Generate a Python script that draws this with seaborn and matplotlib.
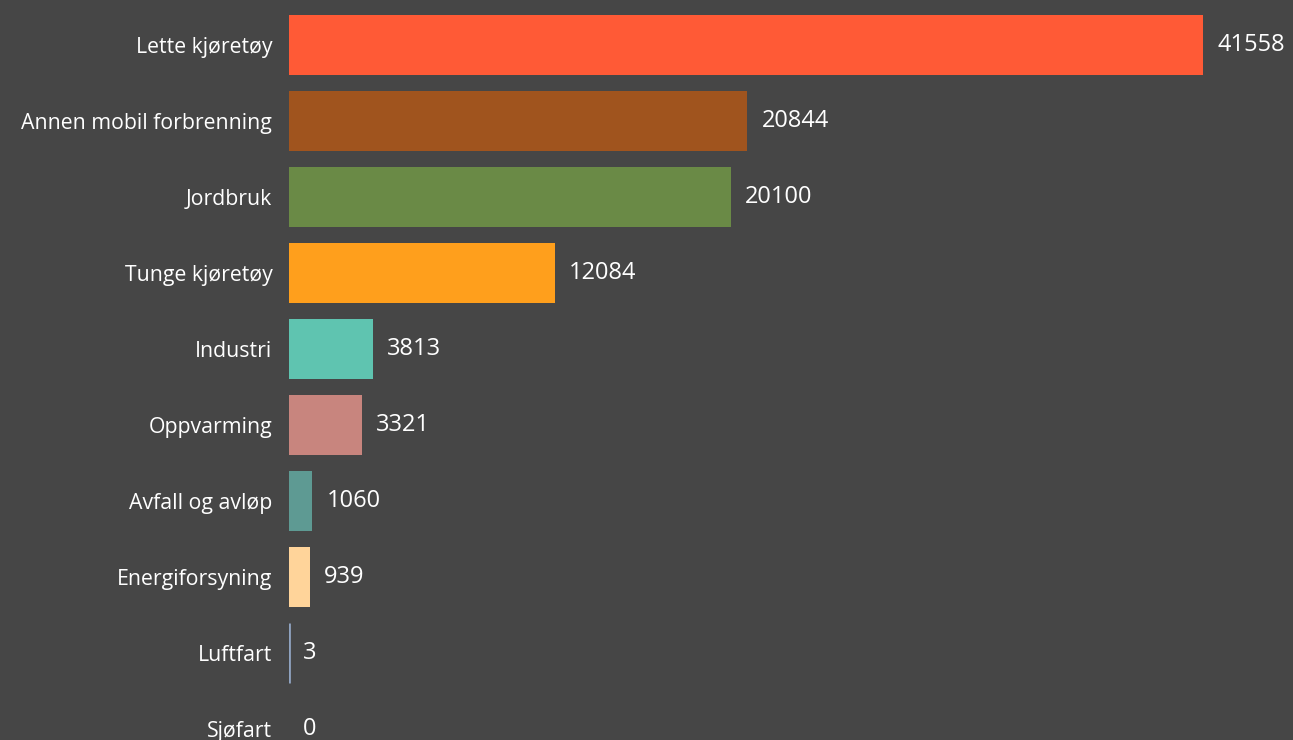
import matplotlib
matplotlib.use("Agg")
import matplotlib.pyplot as plt
import seaborn as sns
import pandas as pd

categories = ["Lette kjøretøy", "Annen mobil forbrenning", "Jordbruk", "Tunge kjøretøy",
              "Industri", "Oppvarming", "Avfall og avløp", "Energiforsyning", "Luftfart", "Sjøfart"]
values = [41558, 20844, 20100, 12084, 3813, 3321, 1060, 939, 3, 0]
colors = ["#FF5A36", "#A0541E", "#6A8A46", "#FF9F1C", "#5FC4B0", "#C8857E",
          "#5E9A93", "#FFD49A", "#8FA3C0", "#8FA3C0"]

bg = "#464646"
sns.set_theme(style="dark")
plt.rcParams['font.family'] = ['Open Sans', 'DejaVu Sans']

df = pd.DataFrame({"cat": categories, "val": values})

fig = plt.figure(figsize=(12.93, 7.4), dpi=100, facecolor=bg)
ax = fig.add_axes([289/1293, 0, 1 - 289/1293, 1])
ax.set_facecolor(bg)

sns.barplot(data=df, x="val", y="cat", hue="cat", palette=colors, order=categories,
            hue_order=categories, legend=False, width=0.79, ax=ax, saturation=1,
            linewidth=0)
# Luftfart tiny bar visible as thin line
ax.barh(8, 0, height=0.79, color="#8FA3C0", linewidth=2, edgecolor="#8FA3C0")

xmax = 41558 * 1004 / 914
ax.set_xlim(0, xmax)
ax.set_ylim(9.145, -0.592)

for i, v in enumerate(values):
    ax.text(v + 14 * xmax / 1004, i, str(v), va="center", ha="left",
            color="white", fontsize=17)

ax.set_xlabel("")
ax.set_ylabel("")
ax.set_xticks([])
ax.tick_params(axis="y", length=0, pad=12, labelsize=15.3, labelcolor="white")
for s in ax.spines.values():
    s.set_visible(False)
ax.grid(False)

fig.savefig("out.png", dpi=100, facecolor=bg)
